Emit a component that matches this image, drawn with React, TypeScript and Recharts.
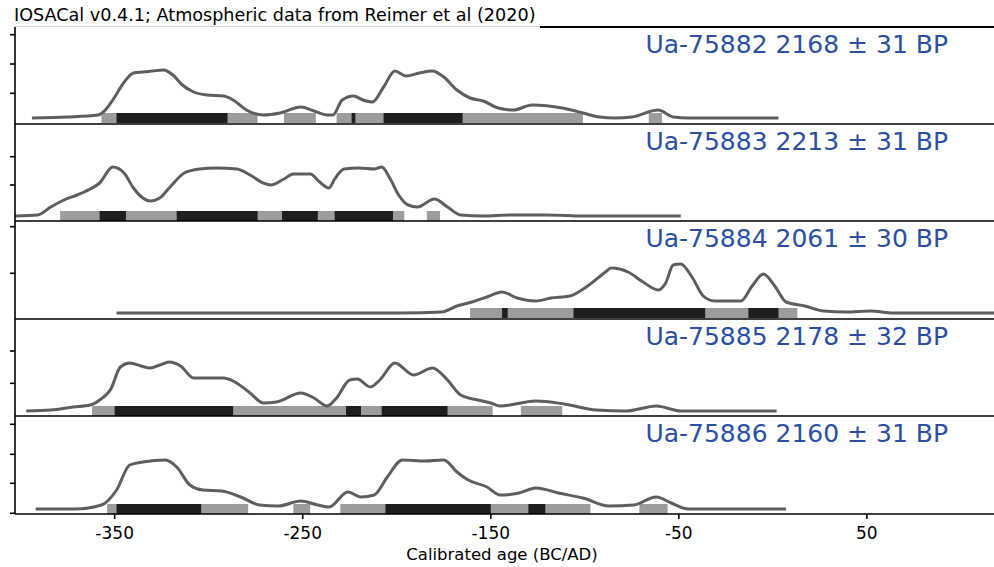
import React from 'react';
import { ComposedChart, Line, XAxis, YAxis, ReferenceArea, ReferenceLine } from 'recharts';

type Pt = [number, number];
type Span = [number, number];

// sample labels
const sampleIds = ['Ua-75882', 'Ua-75883', 'Ua-75884', 'Ua-75885', 'Ua-75886'];
const bpAges = [2168, 2213, 2061, 2178, 2160];
const bpErrors = [31, 31, 30, 32, 31];

const xTicks = [-350, -250, -150, -50, 50];

// calibrated curves: [year, relative probability] (arbitrary units, 0 = baseline)
const curve75882: Pt[] = [
  [-394, 0], [-375, 1], [-359, 3], [-356, 6], [-351, 18], [-346, 33], [-340, 45], [-335, 46],
  [-330, 47], [-324, 48], [-319, 43], [-314, 33], [-308, 26], [-301, 23], [-292, 22], [-287, 18],
  [-280, 8], [-271, 3], [-262, 5], [-251, 11], [-244, 7], [-237, 3], [-234, 3], [-229, 18],
  [-223, 22], [-218, 18], [-213, 16], [-207, 31], [-201, 47], [-195, 42], [-188, 45], [-181, 47],
  [-175, 41], [-168, 28], [-161, 20], [-154, 17], [-146, 10], [-138, 8], [-128, 13], [-112, 10],
  [-101, 5], [-92, 1], [-84, 0], [-75, 1], [-61, 8], [-53, 1], [-45, 0], [3, 0],
];
const curve75883: Pt[] = [
  [-403, 0], [-391, 1], [-384, 9], [-377, 16], [-370, 21], [-363, 27], [-358, 33], [-351, 49],
  [-345, 43], [-340, 28], [-335, 18], [-331, 15], [-326, 18], [-321, 28], [-313, 43], [-305, 47],
  [-296, 48], [-285, 47], [-278, 41], [-271, 33], [-267, 31], [-260, 37], [-255, 42], [-246, 42],
  [-241, 34], [-236, 28], [-233, 37], [-228, 47], [-220, 48], [-212, 47], [-208, 49], [-204, 39],
  [-199, 21], [-194, 11], [-189, 9], [-180, 17], [-173, 9], [-166, 1], [-154, 0], [-140, 1],
  [-120, 1], [-100, 0], [-49, 0],
];
const curve75884: Pt[] = [
  [-349, 0], [-198, 0], [-176, 1], [-168, 7], [-160, 11], [-152, 16], [-144, 21], [-136, 15],
  [-126, 12], [-118, 15], [-108, 17], [-100, 25], [-89, 41], [-86, 45], [-77, 41], [-69, 31],
  [-61, 23], [-57, 30], [-53, 48], [-49, 49], [-43, 36], [-37, 17], [-31, 12], [-17, 12],
  [-11, 27], [-5, 39], [1, 27], [7, 11], [17, 7], [27, 2], [39, 1], [52, 2], [64, 0], [118, 0],
];
const curve75885: Pt[] = [
  [-397, 0], [-384, 1], [-372, 4], [-363, 6], [-358, 11], [-352, 22], [-347, 44], [-342, 48],
  [-336, 45], [-331, 43], [-326, 46], [-321, 49], [-315, 45], [-308, 33], [-301, 33], [-292, 33],
  [-287, 30], [-278, 18], [-271, 8], [-264, 9], [-251, 18], [-244, 13], [-237, 5], [-232, 13],
  [-225, 31], [-221, 32], [-214, 24], [-209, 31], [-201, 48], [-191, 36], [-181, 43], [-173, 31],
  [-166, 16], [-157, 11], [-150, 8], [-145, 5], [-126, 10], [-111, 7], [-94, 1], [-78, 0],
  [-62, 5], [-49, 0], [2, 0],
];
const curve75886: Pt[] = [
  [-392, 0], [-371, 0], [-357, 4], [-349, 19], [-342, 44], [-335, 47], [-323, 49], [-317, 42],
  [-310, 24], [-303, 19], [-293, 18], [-283, 12], [-273, 4], [-263, 3], [-251, 8], [-242, 4],
  [-236, 2], [-226, 17], [-219, 12], [-212, 14], [-205, 32], [-197, 49], [-185, 48], [-175, 49],
  [-168, 37], [-162, 29], [-152, 22], [-145, 14], [-135, 16], [-126, 21], [-114, 16], [-101, 11],
  [-87, 3], [-74, 4], [-62, 12], [-54, 6], [-45, 0], [7, 0],
];

// 95.4% ranges (grey) and 68.2% ranges (black)
const wide75882: Span[] = [[-357, -274], [-260, -243], [-232, -101], [-66, -59]];
const narrow75882: Span[] = [[-349, -290], [-224, -222], [-207, -165]];
const wide75883: Span[] = [[-379, -196], [-184, -177]];
const narrow75883: Span[] = [[-358, -344], [-317, -274], [-261, -242], [-233, -202]];
const wide75884: Span[] = [[-161, 13]];
const narrow75884: Span[] = [[-144, -141], [-106, -36], [-13, 3]];
const wide75885: Span[] = [[-362, -149], [-134, -112]];
const narrow75885: Span[] = [[-350, -287], [-227, -219], [-208, -173]];
const wide75886: Span[] = [[-354, -279], [-255, -246], [-230, -97], [-71, -56]];
const narrow75886: Span[] = [[-349, -304], [-206, -150], [-130, -121]];

const curves = [curve75882, curve75883, curve75884, curve75885, curve75886];
const wideRanges = [wide75882, wide75883, wide75884, wide75885, wide75886];
const narrowRanges = [narrow75882, narrow75883, narrow75884, narrow75885, narrow75886];

// y ticks (no labels) per panel
const yTicks = [[-4.6, 24.7, 54, 83.3], [31, 59.3], [39.7, 86.3], [27.7, 60], [-4.3, 25.7, 54.7, 84.7]];

// layout
const W = 994;
const X_DOMAIN: [number, number] = [-403, 117.6];
const Y_DOMAINS: [number, number][] = [[-6, 91], [-5, 92], [-6, 92], [-5, 92], [-5, 93]];
const PANEL_TOP = [27, 124, 221, 319, 416];
const PANEL_H = [97, 97, 98, 97, 98];
const AXIS_H = 53;
const BAR_HALF = 5;

const CURVE = '#5e5e5e';
const GREY = '#9c9c9c';
const DARK = '#1e1e1e';
const BLUE = '#2b4fa3';
const FONT = '"DejaVu Sans", sans-serif';

const NoLabel = () => <g />;

const Panel = ({ i }: { i: number }) => {
  const last = i === curves.length - 1;
  const data = curves[i].map(([x, p]) => ({ x, p }));
  const [y0, y1] = Y_DOMAINS[i];
  return (
    <ComposedChart
      width={W}
      height={PANEL_H[i] + (last ? AXIS_H : 0)}
      data={data}
      margin={{ top: 0, right: 0, bottom: 0, left: 0 }}
    >
      <XAxis
        dataKey="x"
        type="number"
        domain={X_DOMAIN}
        allowDataOverflow
        ticks={xTicks}
        hide={!last}
        height={AXIS_H}
        tickSize={5}
        tickMargin={8}
        stroke="#000"
        strokeWidth={1.6}
        tick={{ fontSize: 17, fill: '#000', fontFamily: FONT }}
      />
      <YAxis
        type="number"
        domain={[y0, y1]}
        allowDataOverflow
        ticks={yTicks[i]}
        width={15}
        tick={NoLabel}
        tickLine={{ stroke: '#000', strokeWidth: 1.6 }}
        tickSize={5}
        stroke="#000"
        strokeWidth={1.6}
      />
      {i > 0 && <ReferenceLine y={y1} stroke="#000" strokeWidth={1.6} />}
      {!last && <ReferenceLine y={y0} stroke="#000" strokeWidth={1.6} />}
      <Line
        dataKey="p"
        type="monotone"
        stroke={CURVE}
        strokeWidth={3}
        dot={false}
        isAnimationActive={false}
      />
      {wideRanges[i].map(([a, b], k) => (
        <ReferenceArea key={`w${k}`} x1={a} x2={b} y1={-BAR_HALF} y2={BAR_HALF} fill={GREY} fillOpacity={1} stroke="none" />
      ))}
      {narrowRanges[i].map(([a, b], k) => (
        <ReferenceArea key={`n${k}`} x1={a} x2={b} y1={-BAR_HALF} y2={BAR_HALF} fill={DARK} fillOpacity={1} stroke="none" />
      ))}
    </ComposedChart>
  );
};

export default function App() {
  return (
    <div style={{ position: 'absolute', left: 0, top: 0, width: W, height: 567, background: '#fff', overflow: 'hidden', fontFamily: FONT }}>
      <div style={{ position: 'absolute', left: 14, top: 5, fontSize: 17.6, color: '#000', whiteSpace: 'nowrap' }}>
        IOSACal v0.4.1; Atmospheric data from Reimer et al (2020)
      </div>
      {/* top spine of first panel, partly hidden behind the title */}
      <div style={{ position: 'absolute', left: 15, top: 26, width: 525, height: 1, background: '#d4d4d4' }} />
      <div style={{ position: 'absolute', left: 540, top: 26, width: W - 540, height: 2, background: '#000' }} />
      {curves.map((_, i) => (
        <div key={i} style={{ position: 'absolute', left: 0, top: PANEL_TOP[i] }}>
          <Panel i={i} />
        </div>
      ))}
      {sampleIds.map((id, i) => (
        <div
          key={id}
          style={{ position: 'absolute', right: W - 948, top: PANEL_TOP[i] + 3, fontSize: 25, color: BLUE, whiteSpace: 'nowrap' }}
        >
          {`${id} ${bpAges[i]} ± ${bpErrors[i]} BP`}
        </div>
      ))}
      <div style={{ position: 'absolute', left: 0, width: W, top: 545, textAlign: 'center', fontSize: 16.5, color: '#000' }}>
        <span style={{ position: 'relative', left: 5 }}>Calibrated age (BC/AD)</span>
      </div>
    </div>
  );
}
